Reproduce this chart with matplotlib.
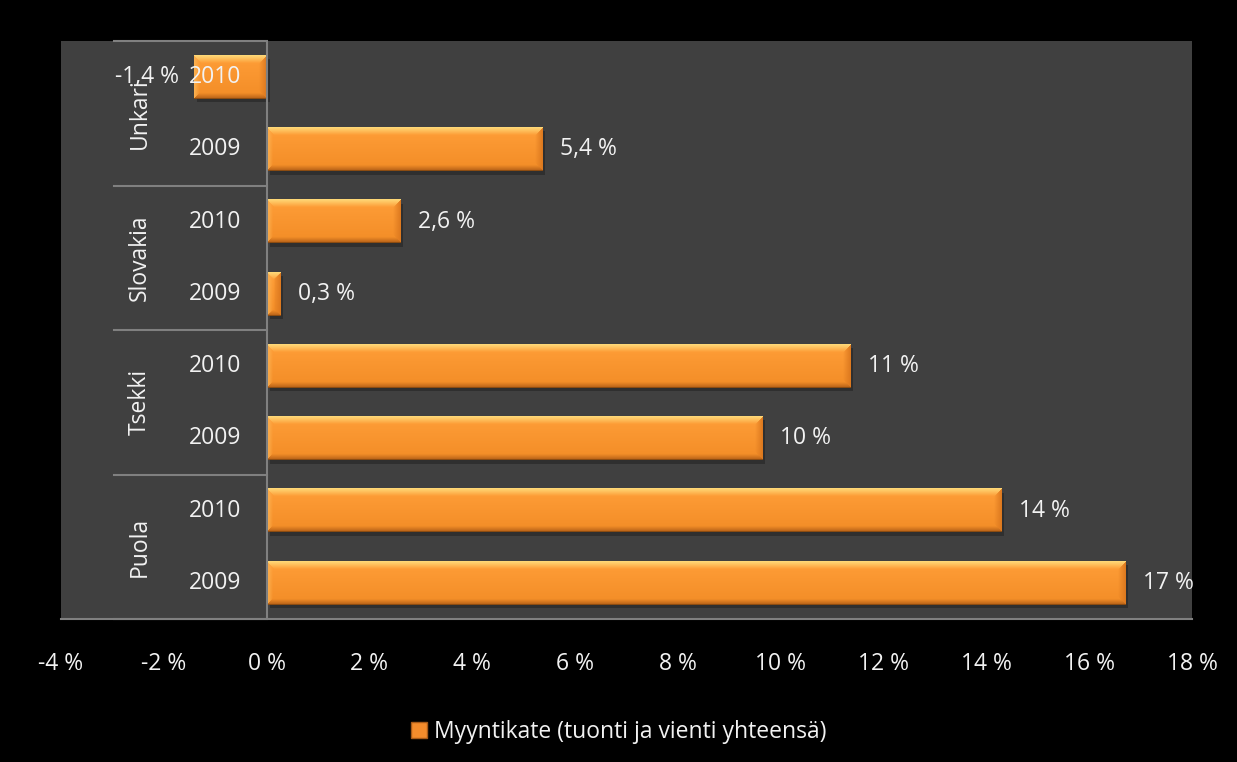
import numpy as np
import matplotlib.pyplot as plt
from matplotlib.patches import Patch

# Myyntikate by country and year (%)
countries = ["Puola", "Tsekki", "Slovakia", "Unkari"]
years = ["2009", "2010"]
values_2009 = [16.7, 9.64, 0.26, 5.36]
values_2010 = [14.29, 11.35, 2.6, -1.41]
xticks = [-4, -2, 0, 2, 4, 6, 8, 10, 12, 14, 16, 18]
legend_label = "Myyntikate (tuonti ja vienti yhteensä)"

plt.rcParams['font.family'] = ['Open Sans', 'DejaVu Sans']
TEXT = '#f2f2f2'
AXIS = '#808080'
FS = 16.5


def fmt(v):
    s = f"{v:.0f}" if abs(v) >= 9.5 else f"{v:.1f}"
    return s.replace('.', ',') + " %"


def bevel_image(w_px, h_px, b=7):
    # picture-frame bevel: light top/left, dark bottom/right, fading into the face
    w_px = max(int(round(w_px)), 2)
    h_px = max(int(round(h_px)), 2)
    r = np.arange(h_px)[:, None] + 0.5 + np.zeros((1, w_px))
    c = np.arange(w_px)[None, :] + 0.5 + np.zeros((h_px, 1))
    d = np.stack([r, h_px - r, c, w_px - c])
    edge = d.argmin(axis=0)
    dist = d.min(axis=0)
    t = (r / h_px)[..., None]
    face = (1 - t) * np.array([1.0, 0.62, 0.22]) + t * np.array([0.95, 0.55, 0.15])
    cols = np.array([[1.0, 0.86, 0.48],   # top
                     [0.70, 0.37, 0.09],  # bottom
                     [0.99, 0.70, 0.32],  # left
                     [0.86, 0.47, 0.12]])  # right
    widths = np.array([8, 6, 6, 8])
    bw = widths[edge]
    k = np.clip(dist / bw, 0, 1)[..., None]
    img = cols[edge] * (1 - k) + face * k
    img[-1, :] = [0.55, 0.30, 0.07]
    return np.clip(img, 0, 1)


fig = plt.figure(figsize=(12.37, 7.62), dpi=100, facecolor='black')
ax = fig.add_axes([61 / 1237, 1 - 619 / 762, (1192 - 61) / 1237, (619 - 41) / 762])
ax.set_facecolor('#404040')
ax.set_xlim(-4, 18)
ax.set_ylim(-0.5, 7.5)

px_per_x = (1192 - 61) / 22
px_per_y = (619 - 41) / 8
bar_h = 0.6

ypos = []
labels_year = []
vals = []
for i, country in enumerate(countries):
    for j, (yr, v) in enumerate(zip(years, [values_2009[i], values_2010[i]])):
        ypos.append(i * 2 + j)
        labels_year.append(yr)
        vals.append(v)

for y, v, yr in zip(ypos, vals, labels_year):
    left, right = min(0, v), max(0, v)
    # soft drop shadow
    ax.add_patch(plt.Rectangle((left + 0.06, y - bar_h / 2 - 0.05), right - left, bar_h,
                               facecolor='black', alpha=0.25, lw=0, zorder=2))
    img = bevel_image((right - left) * px_per_x, bar_h * px_per_y)
    ax.imshow(img, extent=(left, right, y - bar_h / 2, y + bar_h / 2),
              aspect='auto', interpolation='bilinear', zorder=3)
    if v >= 0:
        ax.text(v + 0.35, y, fmt(v), color=TEXT, fontsize=FS, va='center', ha='left', zorder=5)
    else:
        ax.text(v - 0.3, y, fmt(v), color=TEXT, fontsize=FS, va='center', ha='right', zorder=5)
    ax.text(-0.5, y, yr, color=TEXT, fontsize=FS, va='center', ha='right', zorder=5)

for i, country in enumerate(countries):
    ax.text(-2.46, i * 2 + 0.5, country, color=TEXT, fontsize=FS, rotation=90,
            va='center', ha='center', zorder=5)

# category axis with group separators
ax.axvline(0, color=AXIS, lw=1.5, zorder=4)
for yb in [-0.5, 1.5, 3.5, 5.5, 7.5]:
    ax.plot([-2.97, 0], [yb, yb], color=AXIS, lw=1.5, zorder=4, clip_on=False)

ax.set_xticks(xticks)
ax.set_xticklabels([f"{t} %" for t in xticks])
ax.tick_params(axis='x', length=0, pad=24, labelsize=FS, labelcolor=TEXT)
ax.set_yticks([])
for s in ['top', 'right', 'left']:
    ax.spines[s].set_visible(False)
ax.spines['bottom'].set_color(AXIS)
ax.spines['bottom'].set_linewidth(1.5)

handle = Patch(facecolor='#f48c2c', edgecolor='#a85a18', linewidth=1)
fig.legend([handle], [legend_label], loc='center', bbox_to_anchor=(0.5, 1 - 732 / 762),
           frameon=False, fontsize=FS, labelcolor=TEXT, handlelength=0.7,
           handleheight=0.7, handletextpad=0.3)

fig.savefig('out.png', dpi=100, facecolor='black')
